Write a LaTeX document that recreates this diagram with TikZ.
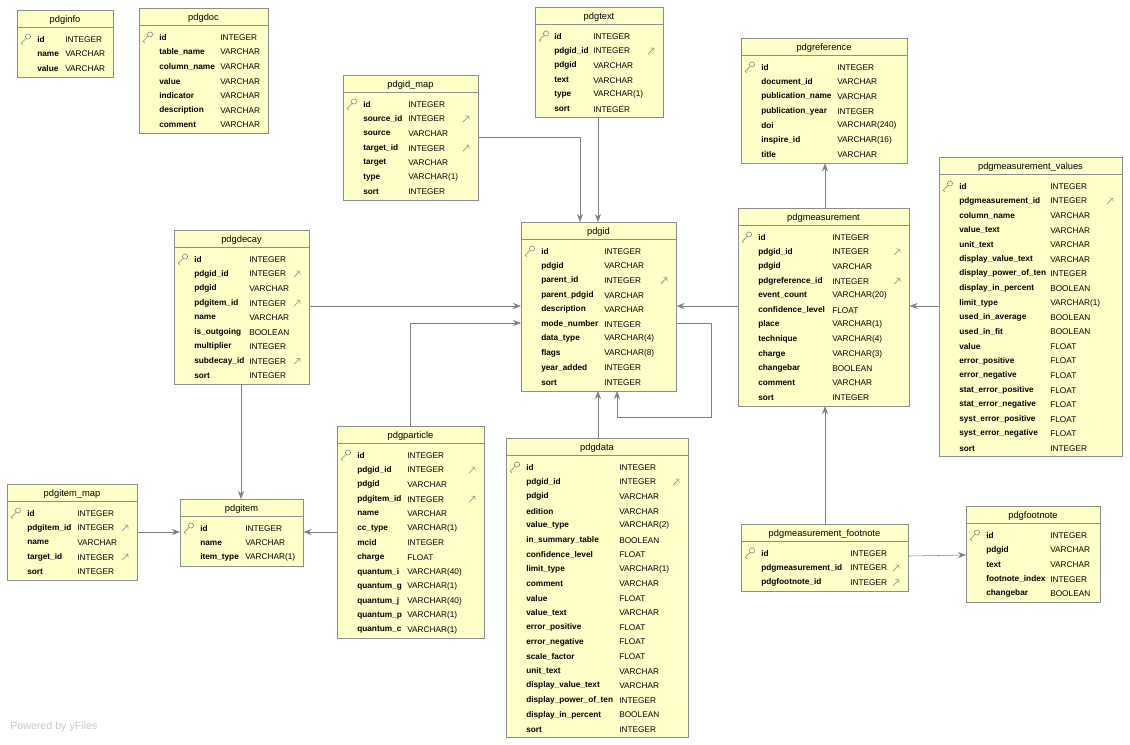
\documentclass[tikz,border=0pt]{standalone}
\usepackage{fontspec}
\setmainfont{Liberation Sans}
\usetikzlibrary{arrows.meta}

\definecolor{tabfill}{HTML}{FFFFC8}
\definecolor{tabline}{HTML}{8C8C8C}
\definecolor{linkgray}{HTML}{7F7F7F}

\tikzset{
  ertab/.style={draw=tabline, fill=tabfill, anchor=north west, inner sep=0pt},
  ertitle/.style={font=\fontsize{7}{8}\selectfont, inner sep=0pt},
  erfield/.style={font=\bfseries\fontsize{6.2}{7}\selectfont, anchor=west, inner sep=0pt},
  ertype/.style={font=\fontsize{6.2}{7}\selectfont, anchor=west, inner sep=0pt},
  erlink/.style={draw=linkgray, -{Stealth[length=6pt,width=4.5pt]}},
}

% name, left, top, width, rows, name x, type x, rows
\newcommand\ertable[8]{%
  \node[ertab, minimum width={#4*0.75pt}, minimum height={(23+14.55*#5)*0.75pt}] (#1) at (#2,#3) {};
  \node[ertitle] at ({#2+#4/2},{#3+10}) {#1};
  \draw[tabline] (#2,{#3+17}) -- ++(#4,0);
  \foreach \f/\t/\k [count=\i from 0] in {#8} {
    \node[erfield] at (#6,{#3+29.5+14.55*\i}) {\f};
    \node[ertype] at (#7,{#3+29.5+14.55*\i}) {\t};
    \ifnum\k=1
      \draw[gray, -{To[length=2pt]}] ({#2+#4-15},{#3+32.5+14.55*\i}) -- ++(6,-6);
    \fi
    \ifnum\i=0
      \draw[gray, line width=0.4pt] ({#2+11},{#3+26.5}) circle (2.6)
        ({#2+9.2},{#3+28.3}) -- ++(-5,5) -- ++(1.5,1.5);
    \fi
  }
}

\begin{document}
\catcode`\_=12
\begin{tikzpicture}[x=0.75pt, y=-0.75pt]
\useasboundingbox (0,0) rectangle (1130,744);

\ertable{pdginfo}{17}{10}{96}{3}{37}{65}{id/INTEGER/0, name/VARCHAR/0, value/VARCHAR/0}
\ertable{pdgdoc}{139}{8}{129}{7}{159}{220}{id/INTEGER/0, table_name/VARCHAR/0, column_name/VARCHAR/0, value/VARCHAR/0, indicator/VARCHAR/0, description/VARCHAR/0, comment/VARCHAR/0}
\ertable{pdgtext}{535}{7}{128}{6}{554}{593}{id/INTEGER/0, pdgid_id/INTEGER/1, pdgid/VARCHAR/0, text/VARCHAR/0, type/VARCHAR(1)/0, sort/INTEGER/0}
\ertable{pdgid_map}{343}{75}{135}{7}{363}{408}{id/INTEGER/0, source_id/INTEGER/1, source/VARCHAR/0, target_id/INTEGER/1, target/VARCHAR/0, type/VARCHAR(1)/0, sort/INTEGER/0}
\ertable{pdgreference}{741}{38}{166}{7}{761}{837}{id/INTEGER/0, document_id/VARCHAR/0, publication_name/VARCHAR/0, publication_year/INTEGER/0, doi/VARCHAR(240)/0, inspire_id/VARCHAR(16)/0, title/VARCHAR/0}
\ertable{pdgmeasurement_values}{939}{157}{183}{19}{959}{1050}{id/INTEGER/0, pdgmeasurement_id/INTEGER/1, column_name/VARCHAR/0, value_text/VARCHAR/0, unit_text/VARCHAR/0, display_value_text/VARCHAR/0, display_power_of_ten/INTEGER/0, display_in_percent/BOOLEAN/0, limit_type/VARCHAR(1)/0, used_in_average/BOOLEAN/0, used_in_fit/BOOLEAN/0, value/FLOAT/0, error_positive/FLOAT/0, error_negative/FLOAT/0, stat_error_positive/FLOAT/0, stat_error_negative/FLOAT/0, syst_error_positive/FLOAT/0, syst_error_negative/FLOAT/0, sort/INTEGER/0}
\ertable{pdgid}{521}{222}{155}{10}{541}{604}{id/INTEGER/0, pdgid/VARCHAR/0, parent_id/INTEGER/1, parent_pdgid/VARCHAR/0, description/VARCHAR/0, mode_number/INTEGER/0, data_type/VARCHAR(4)/0, flags/VARCHAR(8)/0, year_added/INTEGER/0, sort/INTEGER/0}
\ertable{pdgdecay}{174}{230}{135}{9}{194}{249}{id/INTEGER/0, pdgid_id/INTEGER/1, pdgid/VARCHAR/0, pdgitem_id/INTEGER/1, name/VARCHAR/0, is_outgoing/BOOLEAN/0, multiplier/INTEGER/0, subdecay_id/INTEGER/1, sort/INTEGER/0}
\ertable{pdgmeasurement}{738}{208}{171}{12}{758}{832}{id/INTEGER/0, pdgid_id/INTEGER/1, pdgid/VARCHAR/0, pdgreference_id/INTEGER/1, event_count/VARCHAR(20)/0, confidence_level/FLOAT/0, place/VARCHAR(1)/0, technique/VARCHAR(4)/0, charge/VARCHAR(3)/0, changebar/BOOLEAN/0, comment/VARCHAR/0, sort/INTEGER/0}
\ertable{pdgparticle}{337}{426}{147}{13}{357}{407}{id/INTEGER/0, pdgid_id/INTEGER/1, pdgid/VARCHAR/0, pdgitem_id/INTEGER/1, name/VARCHAR/0, cc_type/VARCHAR(1)/0, mcid/INTEGER/0, charge/FLOAT/0, quantum_i/VARCHAR(40)/0, quantum_g/VARCHAR(1)/0, quantum_j/VARCHAR(40)/0, quantum_p/VARCHAR(1)/0, quantum_c/VARCHAR(1)/0}
\ertable{pdgdata}{506}{438}{182}{19}{526}{619}{id/INTEGER/0, pdgid_id/INTEGER/1, pdgid/VARCHAR/0, edition/VARCHAR/0, value_type/VARCHAR(2)/0, in_summary_table/BOOLEAN/0, confidence_level/FLOAT/0, limit_type/VARCHAR(1)/0, comment/VARCHAR/0, value/FLOAT/0, value_text/VARCHAR/0, error_positive/FLOAT/0, error_negative/FLOAT/0, scale_factor/FLOAT/0, unit_text/VARCHAR/0, display_value_text/VARCHAR/0, display_power_of_ten/INTEGER/0, display_in_percent/BOOLEAN/0, sort/INTEGER/0}
\ertable{pdgitem_map}{7}{484}{130}{5}{27}{77}{id/INTEGER/0, pdgitem_id/INTEGER/1, name/VARCHAR/0, target_id/INTEGER/1, sort/INTEGER/0}
\ertable{pdgitem}{180}{499}{123}{3}{200}{245}{id/INTEGER/0, name/VARCHAR/0, item_type/VARCHAR(1)/0}
\ertable{pdgmeasurement_footnote}{741}{524}{167}{3}{761}{850}{id/INTEGER/0, pdgmeasurement_id/INTEGER/1, pdgfootnote_id/INTEGER/1}
\ertable{pdgfootnote}{966}{506}{134}{5}{986}{1050}{id/INTEGER/0, pdgid/VARCHAR/0, text/VARCHAR/0, footnote_index/INTEGER/0, changebar/BOOLEAN/0}

% links into pdgid
\draw[erlink] (pdgtext.south -| 598,0) -- (pdgid.north -| 598,0);
\draw[erlink] (pdgid_map.east |- 0,137) -| (pdgid.north -| 580,0);
\draw[erlink] (pdgdecay.east |- 0,306) -- (pdgid.west |- 0,306);
\draw[erlink] (pdgparticle.north -| 410,0) |- (pdgid.west |- 0,323);
\draw[erlink] (pdgdata.north -| 598,0) -- (pdgid.south -| 598,0);
\draw[erlink] (pdgid.east |- 0,323) -| (711,417) -| (pdgid.south -| 617,0);
\draw[erlink] (pdgmeasurement.west |- 0,306) -- (pdgid.east |- 0,306);

% measurement side
\draw[erlink] (pdgmeasurement.north -| 825,0) -- (pdgreference.south -| 825,0);
\draw[erlink] (pdgmeasurement_values.west |- 0,306) -- (pdgmeasurement.east |- 0,306);
\draw[erlink] (pdgmeasurement_footnote.north -| 825,0) -- (pdgmeasurement.south -| 825,0);
\draw[erlink] (pdgmeasurement_footnote.east |- 0,556) -- (pdgfootnote.west |- 0,555);

% items
\draw[erlink] (pdgdecay.south -| 241,0) -- (pdgitem.north -| 241,0);
\draw[erlink] (pdgparticle.west |- 0,532) -- (pdgitem.east |- 0,532);
\draw[erlink] (pdgitem_map.east |- 0,532) -- (pdgitem.west |- 0,532);

\node[anchor=west, text=gray!45, font=\fontsize{8}{9}\selectfont, inner sep=0pt] (yfiles) at (10,727) {Powered by yFiles};
\end{tikzpicture}
\end{document}
